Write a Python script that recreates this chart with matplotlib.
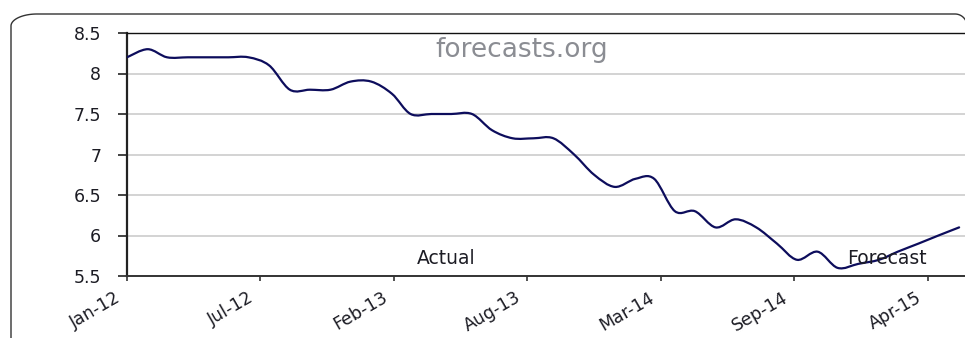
import numpy as np
import pandas as pd
import matplotlib
matplotlib.use("Agg")
import matplotlib.pyplot as plt
from matplotlib.path import Path
from matplotlib.patches import PathPatch
from matplotlib.transforms import ScaledTranslation

# Monthly rate, Jan 2012 .. Jun 2015 (actual, then forecast)
start_month = "2012-01-01"
rate = [8.2, 8.3, 8.2, 8.2, 8.2, 8.2, 8.2, 8.1, 7.8, 7.8, 7.8, 7.9,
        7.9, 7.75, 7.5, 7.5, 7.5, 7.5, 7.3, 7.2, 7.2, 7.2, 7.0, 6.75,
        6.6, 6.7, 6.7, 6.3, 6.3, 6.1, 6.2, 6.1, 5.9, 5.7, 5.8, 5.6,
        5.65, 5.7, 5.8, 5.9, 6.0, 6.1]
tick_days = [0, 200, 400, 600, 800, 1000, 1200]
tick_labels = ["Jan-12", "Jul-12", "Feb-13", "Aug-13", "Mar-14", "Sep-14", "Apr-15"]
y_ticks = [5.5, 6, 6.5, 7, 7.5, 8, 8.5]
y_labels = ["5.5", "6", "6.5", "7", "7.5", "8", "8.5"]

dates = pd.date_range(start_month, periods=len(rate), freq="MS")
x = np.asarray((dates - dates[0]).days, dtype=float)
y = np.asarray(rate, dtype=float)

W, H = 965, 338
fig = plt.figure(figsize=(W / 100, H / 100), dpi=100)
fig.patch.set_facecolor("white")

# plot area: 0.6673 px per day, runs past the right edge of the figure
px_per_day = 0.6673
left_px, top_px, bottom_px = 127, 33, 276
xmax = 1262
ax = fig.add_axes([left_px / W, (H - bottom_px) / H,
                   xmax * px_per_day / W, (bottom_px - top_px) / H])
ax.set_xlim(0, xmax)
ax.set_ylim(5.5, 8.5)
ax.set_facecolor("white")

ax.spines["top"].set_color("#111111")
ax.spines["top"].set_linewidth(1.0)
ax.spines["left"].set_color("#222222")
ax.spines["left"].set_linewidth(1.6)
ax.spines["bottom"].set_color("#333333")
ax.spines["bottom"].set_linewidth(1.4)
ax.spines["right"].set_visible(False)

ax.set_yticks(y_ticks)
ax.set_yticklabels(y_labels)
ax.set_xticks(tick_days)
ax.set_xticklabels(tick_labels)
ax.yaxis.grid(True, color="#c8c8c8", linewidth=1.1)
ax.set_axisbelow(True)

ax.tick_params(axis="y", direction="out", length=6.5, width=1.2,
               color="#222222", pad=12, labelsize=12.5, labelcolor="#1c1c24")
ax.tick_params(axis="x", direction="out", length=3.6, width=1.2,
               color="#333333", pad=11, labelsize=12.5, labelcolor="#1c1c24")
for lab in ax.get_xticklabels():
    lab.set_rotation(30)
    lab.set_ha("right")
    lab.set_va("center")
    lab.set_rotation_mode("anchor")
    lab.set_transform(lab.get_transform() + ScaledTranslation(-0.08, 0, fig.dpi_scale_trans))

# smoothed line: cubic Bezier segments through every monthly point
verts = [(x[0], y[0])]
codes = [Path.MOVETO]
n = len(x)
for i in range(n - 1):
    p0 = np.array([x[max(i - 1, 0)], y[max(i - 1, 0)]])
    p1 = np.array([x[i], y[i]])
    p2 = np.array([x[i + 1], y[i + 1]])
    p3 = np.array([x[min(i + 2, n - 1)], y[min(i + 2, n - 1)]])
    c1 = p1 + (p2 - p0) / 6.0
    c2 = p2 - (p3 - p1) / 6.0
    verts += [tuple(c1), tuple(c2), tuple(p2)]
    codes += [Path.CURVE4] * 3
ax.add_patch(PathPatch(Path(verts, codes), facecolor="none",
                       edgecolor="#0d0d5c", linewidth=1.6, zorder=3,
                       capstyle="round", joinstyle="round"))

ax.text(592, 8.29, "forecasts.org", ha="center", va="center",
        fontsize=19, color="#8b8d93", zorder=4)
ax.text(478, 5.71, "Actual", ha="center", va="center",
        fontsize=13.5, color="#1c1c24", zorder=4)
ax.text(1139, 5.71, "Forecast", ha="center", va="center",
        fontsize=13.5, color="#1c1c24", zorder=4)

# rounded outer chart frame
ov = fig.add_axes([0, 0, 1, 1], zorder=-1)
ov.set_xlim(0, W)
ov.set_ylim(H, 0)
ov.axis("off")
r_x, r_y = 26, 12
t = np.linspace(np.pi, 1.5 * np.pi, 30)
cx, cy = 11 + r_x, 14 + r_y
arc_x = cx + r_x * np.cos(t)
arc_y = cy + r_y * np.sin(t)
fx = np.concatenate([[11], arc_x, [955]])
fy = np.concatenate([[H], arc_y, [14]])
t2 = np.linspace(1.5 * np.pi, 2 * np.pi, 20)
fx = np.concatenate([fx, 955 + 12 * np.cos(t2)])
fy = np.concatenate([fy, 14 + 12 + 12 * np.sin(t2)])
ov.plot(fx, fy, color="#333333", linewidth=1.0)

fig.savefig("out.png", dpi=100, facecolor="white")
